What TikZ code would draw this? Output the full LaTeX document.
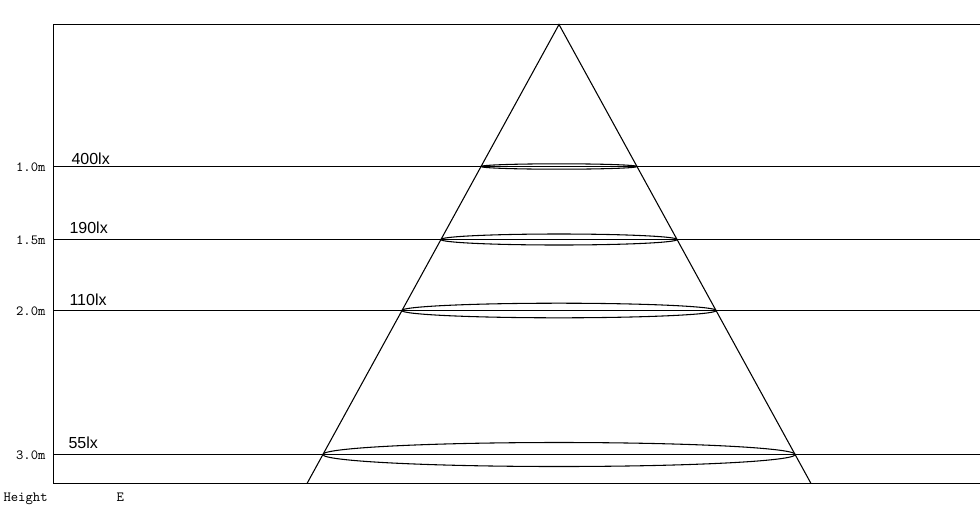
\documentclass[tikz,border=0pt]{standalone}
\usepackage{fontspec}
\setmainfont{Liberation Sans}
\usetikzlibrary{positioning}
\tikzset{>=stealth}
\tikzset{
    lux/.style={inner sep=0pt, anchor=base west, font=\fontsize{12}{14}\selectfont},
    hgt/.style={inner sep=0pt, font=\ttfamily\fontsize{10.5}{12}\selectfont},
}

\begin{document}
\begin{tikzpicture}[x=0.75pt, y=-0.75pt, line width=0.8pt]
    \useasboundingbox (0,0) rectangle (980,504);
    % frame
    \draw(980,24.5)--(53.5,24.5)--(53.5,483.5)--(980,483.5);
    
    % light cone
    \coordinate (apex) at (559,24.5);
    \coordinate (bl) at (307,483.5);
    \coordinate (br) at (811,483.5);
    \draw(bl)--(apex)--(br);
    
    \foreach \y/\h/\E/\ex/\ey/\rx/\ry [count=\i] in {166.5/1.0/400/71/164/78.2/2.7, 239.5/1.5/190/69/233/118.2/5.5, 310.5/2.0/110/69/305/157.2/7.3, 454.5/3.0/55/68/448/236.2/12}
    {
        \draw(53.5,\y)--(980,\y);
        \node[hgt, anchor=base east](h\i) at (46,\y+4.5) {\h m};
        \node[lux](e\i) at (\ex,\ey) {\E lx};
        \draw(559,\y) ellipse [x radius=\rx*0.75pt, y radius=\ry*0.75pt];
    }
    
    \node[hgt, anchor=base west](height) at (3,501) {Height};
    \node[hgt, anchor=base west](illum) at (116,501) {E};
\end{tikzpicture}
\end{document}
